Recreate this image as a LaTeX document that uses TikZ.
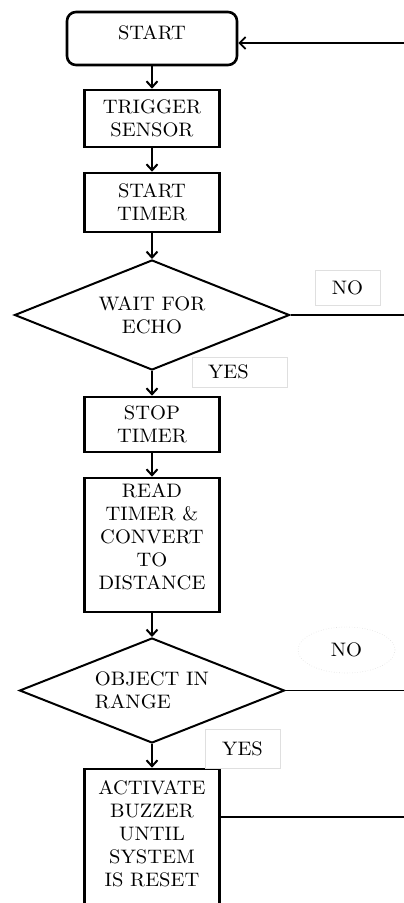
\documentclass[tikz,border=0pt]{standalone}
\usepackage{fontspec}
\setmainfont{lmroman10-regular.otf}[FakeStretch=1.05]
\usetikzlibrary{shapes.geometric,arrows.meta}
\begin{document}
\begin{tikzpicture}[x=1pt, y=-1pt,
    every node/.style={font=\fontsize{19.5}{23}\selectfont, align=center},
    procbox/.style={draw, line width=2.6pt, inner sep=0pt, minimum width=135pt},
    decbox/.style={draw, diamond, aspect=2.5, line width=2pt, inner sep=0pt},
    lblbox/.style={draw=gray!25, line width=0.6pt, inner sep=0pt},
    flow/.style={line width=2.6pt, -{Straight Barb[length=6pt, width=11pt, line width=2pt]}},
    link/.style={line width=1.8pt}]
    \useasboundingbox (0,0) rectangle (404,903);
    % Steps
    \node[procbox, rounded corners=9pt, minimum width=170pt, minimum height=53pt,
          text height=13pt, text depth=12pt] (start) at (152,38.5) {START};
    \node[procbox, minimum height=57pt] (trig) at (152,118.5) {TRIGGER\\SENSOR};
    \node[procbox, minimum height=59pt] (tstart) at (152,202.5) {START\\TIMER};
    \node[decbox, minimum width=275pt, minimum height=110pt] (echo) at (152,315) {WAIT FOR\\ECHO};
    \node[procbox, minimum height=55pt] (tstop) at (152,424.5) {STOP\\TIMER};
    \node[procbox, minimum height=134pt, text depth=16pt] (dist) at (152,545) {READ\\TIMER \&\\CONVERT\\TO\\DISTANCE};
    \node[decbox, minimum width=265pt, minimum height=105pt, align=left] (range) at (152,690.5) {OBJECT IN\\RANGE};
    \node[procbox, minimum height=142pt, text depth=12pt] (buzz) at (152,840) {ACTIVATE\\BUZZER\\UNTIL\\SYSTEM\\IS RESET};
    % Labels
    \node[lblbox, minimum width=65pt, minimum height=35pt] (no1) at (347.5,287.5) {NO};
    \node[lblbox, minimum width=95pt, minimum height=30pt, text width=63pt, inner xsep=16pt, align=left] (yes1) at (239.5,372) {YES};
    \node[lblbox, ellipse, dotted, minimum width=97pt, minimum height=46pt] (no2) at (346.5,650) {NO};
    \node[lblbox, minimum width=75pt, minimum height=39pt] (yes2) at (242.5,748.5) {YES};
    % Loop back ends
    \coordinate (back0) at (404,43);
    \coordinate (back1) at (404,315);
    \coordinate (back2) at (404,690.5);
    \coordinate (back3) at (404,817);
    % Arrows
    \draw[flow] (start) -- (trig);
    \draw[flow] (trig) -- (tstart);
    \draw[flow] (tstart) -- (echo);
    \draw[flow] (echo) -- (tstop);
    \draw[flow] (tstop) -- (dist);
    \draw[flow] (dist) -- (range);
    \draw[flow] (range) -- (buzz);
    \draw[link, -{Straight Barb[length=6pt, width=12pt, line width=1.8pt]}] (back0) -- (start.east |- back0);
    \draw[link] (echo.east) -- (back1);
    \draw[link] (range.east) -- (back2);
    \draw[link] (buzz.east |- back3) -- (back3);
\end{tikzpicture}
\end{document}
